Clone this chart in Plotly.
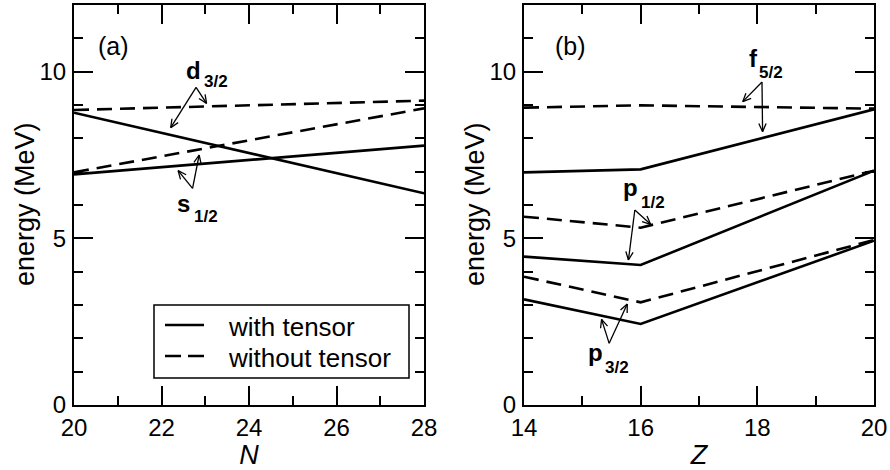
import math
import plotly.graph_objects as go

# ---------------- data ----------------
N_vals = [20, 28]
d32_with = [8.77, 6.35]
d32_without = [8.85, 9.13]
s12_with = [6.92, 7.78]
s12_without = [6.98, 8.90]

Z_vals = [14, 16, 20]
f52_with = [6.98, 7.07, 8.87]
f52_without = [8.92, 8.99, 8.89]
p12_with = [4.45, 4.20, 7.03]
p12_without = [5.65, 5.32, 7.03]
p32_with = [3.17, 2.43, 4.93]
p32_without = [3.85, 3.08, 4.95]

x_ticks_N = [20, 22, 24, 26, 28]
x_ticks_Z = [14, 16, 18, 20]
y_ticks = [0, 5, 10]
legend_names = ["with tensor", "without tensor"]
y_title = "energy (MeV)"

# ---------------- layout constants ----------------
W, H = 890, 470
ML, MR, MT, MB = 0, 0, 5, 65
PLOT_H = H - MT - MB
DOM1 = (74, 424)
DOM2 = (524, 874)
XR1 = (20, 28)
XR2 = (14, 20)
YR = (0, 12)
FONT = "Liberation Sans, Arial, Helvetica, sans-serif"
DASH = "15px,8px"
LW = 2.6

def px_to_paper_x(px):
    return (px - ML) / (W - ML - MR)

def px_to_paper_y(py):
    return (MT + PLOT_H - py) / PLOT_H

fig = go.Figure()

def add_line(x, y, xa, ya, dashed, name):
    fig.add_trace(go.Scatter(
        x=x, y=y, mode="lines", xaxis=xa, yaxis=ya,
        line=dict(color="black", width=LW, dash=DASH if dashed else "solid"),
        name=name, showlegend=False, hoverinfo="skip"))

add_line(N_vals, d32_with, "x", "y", False, "d3/2 with tensor")
add_line(N_vals, d32_without, "x", "y", True, "d3/2 without tensor")
add_line(N_vals, s12_with, "x", "y", False, "s1/2 with tensor")
add_line(N_vals, s12_without, "x", "y", True, "s1/2 without tensor")

add_line(Z_vals, f52_with, "x2", "y2", False, "f5/2 with tensor")
add_line(Z_vals, f52_without, "x2", "y2", True, "f5/2 without tensor")
add_line(Z_vals, p12_with, "x2", "y2", False, "p1/2 with tensor")
add_line(Z_vals, p12_without, "x2", "y2", True, "p1/2 without tensor")
add_line(Z_vals, p32_with, "x2", "y2", False, "p3/2 with tensor")
add_line(Z_vals, p32_without, "x2", "y2", True, "p3/2 without tensor")

# ---------------- arrows (open V heads) ----------------
def scale(dom, xr):
    return (dom[1] - dom[0]) / (xr[1] - xr[0])

SY = PLOT_H / (YR[1] - YR[0])
arrows = [
    ("x", "y", (22.79, 9.53), (22.21, 8.32)),
    ("x", "y", (22.79, 9.53), (23.03, 9.05)),
    ("x", "y", (22.71, 6.50), (22.38, 7.03)),
    ("x", "y", (22.71, 6.50), (22.86, 7.50)),
    ("x2", "y2", (18.08, 9.69), (17.75, 9.10)),
    ("x2", "y2", (18.08, 9.69), (18.09, 8.20)),
    ("x2", "y2", (15.90, 5.85), (16.17, 5.42)),
    ("x2", "y2", (15.90, 5.85), (15.79, 4.35)),
    ("x2", "y2", (15.46, 1.85), (15.33, 2.57)),
    ("x2", "y2", (15.46, 1.85), (15.77, 3.03)),
]
shapes = []
HL, HA = 9, math.radians(24)
for xr, yr, tail, head in arrows:
    sx = scale(DOM1, XR1) if xr == "x" else scale(DOM2, XR2)
    shapes.append(dict(type="line", xref=xr, yref=yr, x0=tail[0], y0=tail[1],
                       x1=head[0], y1=head[1], line=dict(color="black", width=1.3)))
    th = math.atan2((head[1] - tail[1]) * SY, (head[0] - tail[0]) * sx)
    for sgn in (1, -1):
        phi = th + math.pi + sgn * HA
        shapes.append(dict(type="line", xref=xr, yref=yr, x0=head[0], y0=head[1],
                           x1=head[0] + HL * math.cos(phi) / sx,
                           y1=head[1] + HL * math.sin(phi) / SY,
                           line=dict(color="black", width=1.3)))

# ---------------- legend (drawn box) ----------------
LEG_BOX = (154, 305, 409, 378)   # left, top, right, bottom in px
LEG_ROWS = [325, 356]
LEG_LINE_X = (165, 204)
LEG_TEXT_X = 226
LEG_FONT = 26
shapes.append(dict(type="rect", xref="paper", yref="paper",
                   x0=px_to_paper_x(LEG_BOX[0]), x1=px_to_paper_x(LEG_BOX[2]),
                   y0=px_to_paper_y(LEG_BOX[3]), y1=px_to_paper_y(LEG_BOX[1]),
                   line=dict(color="black", width=1.5), fillcolor="white", layer="above"))
annotations = []
for i, (name, row) in enumerate(zip(legend_names, LEG_ROWS)):
    shapes.append(dict(type="line", xref="paper", yref="paper",
                       x0=px_to_paper_x(LEG_LINE_X[0]), x1=px_to_paper_x(LEG_LINE_X[1]),
                       y0=px_to_paper_y(row), y1=px_to_paper_y(row),
                       line=dict(color="black", width=LW, dash="solid" if i == 0 else "16px,7px"),
                       layer="above"))
    annotations.append(dict(xref="paper", yref="paper", x=px_to_paper_x(LEG_TEXT_X),
                            y=px_to_paper_y(row + 1.5), text=name, showarrow=False,
                            xanchor="left", yanchor="middle",
                            font=dict(family=FONT, size=LEG_FONT, color="black")))

# ---------------- y-axis titles ----------------
for xc in (25, 475):
    annotations.append(dict(xref="paper", yref="paper", x=px_to_paper_x(xc),
                            y=px_to_paper_y(204), text=y_title, textangle=-90,
                            showarrow=False, xanchor="center", yanchor="middle",
                            font=dict(family=FONT, size=27, color="black")))

# ---------------- labels ----------------
labels = [
    ("x", "y", 20.91, 10.78, "(a)", 25, False),
    ("x2", "y2", 14.80, 10.78, "(b)", 25, False),
    ("x", "y", 22.72, 10.05, "d", 24, True),
    ("x", "y", 23.25, 9.72, "3/2", 17, True),
    ("x", "y", 22.51, 6.05, "s", 24, True),
    ("x", "y", 23.01, 5.67, "1/2", 17, True),
    ("x2", "y2", 17.93, 10.40, "f", 24, True),
    ("x2", "y2", 18.24, 9.99, "5/2", 17, True),
    ("x2", "y2", 15.83, 6.53, "p", 24, True),
    ("x2", "y2", 16.21, 6.09, "1/2", 17, True),
    ("x2", "y2", 15.22, 1.58, "p", 24, True),
    ("x2", "y2", 15.59, 1.14, "3/2", 17, True),
]
for xr, yr, x, y, t, s, b in labels:
    annotations.append(dict(xref=xr, yref=yr, x=x, y=y, text=f"<b>{t}</b>" if b else t,
                            showarrow=False, xanchor="center", yanchor="middle",
                            font=dict(family=FONT, size=s, color="black")))

# ---------------- axes ----------------
def common_axis():
    return dict(ticks="inside", ticklen=19, tickwidth=1.5, tickcolor="black",
                minor=dict(dtick=1, ticks="inside", ticklen=9, tickwidth=1.5, tickcolor="black"),
                showline=True, linewidth=2, linecolor="black", mirror="ticks",
                showgrid=False, zeroline=False, automargin=False,
                tickfont=dict(family=FONT, size=24, color="black"))

def xaxis(dom, xr, ticks, title, anchor):
    d = common_axis()
    d.update(domain=[px_to_paper_x(dom[0]), px_to_paper_x(dom[1])], range=list(xr),
             anchor=anchor, tickvals=ticks, ticktext=[str(t) for t in ticks],
             ticklabelstandoff=0,
             title=dict(text=f"<i>{title}</i>", standoff=5,
                        font=dict(family=FONT, size=27, color="black")))
    return d

def yaxis(anchor):
    d = common_axis()
    d.update(domain=[0, 1], range=list(YR), anchor=anchor,
             tickvals=y_ticks, ticktext=[str(t) for t in y_ticks],
             ticklabelstandoff=1)
    return d

fig.update_layout(
    width=W, height=H,
    margin=dict(l=ML, r=MR, t=MT, b=MB, autoexpand=False),
    paper_bgcolor="white", plot_bgcolor="white",
    xaxis=xaxis(DOM1, XR1, x_ticks_N, "N", "y"),
    yaxis=yaxis("x"),
    xaxis2=xaxis(DOM2, XR2, x_ticks_Z, "Z", "y2"),
    yaxis2=yaxis("x2"),
    shapes=shapes,
    annotations=annotations,
    showlegend=False,
    font=dict(family=FONT, color="black"),
)

fig.write_html("out.html", config={"displayModeBar": False},
               post_script="document.body.style.margin='0px';")
